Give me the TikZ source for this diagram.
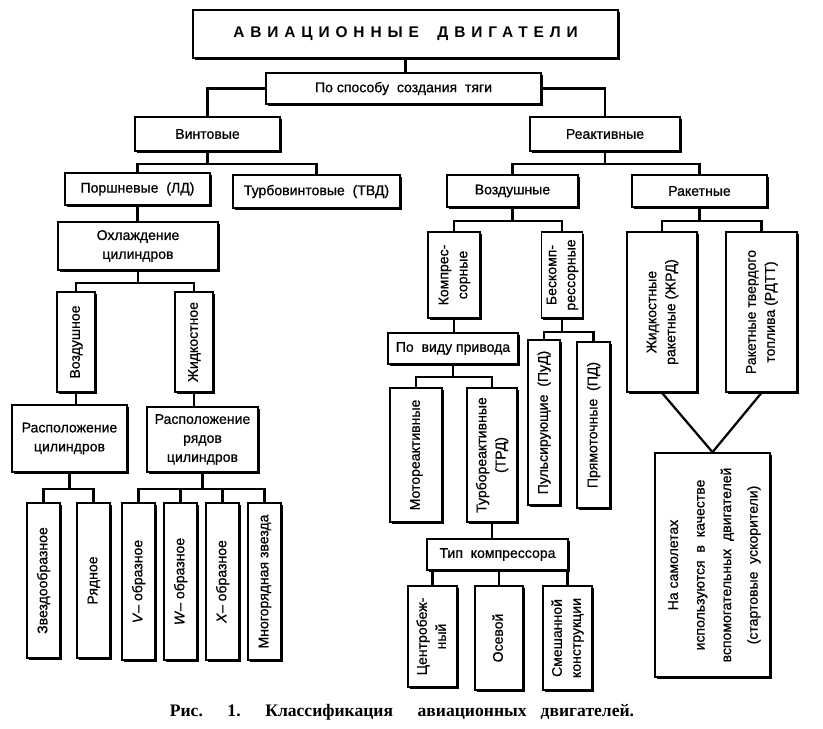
\documentclass[tikz,border=0pt]{standalone}
\usepackage{fontspec}
\setmainfont[FakeBold=0.7]{Liberation Sans}
\newfontfamily\capfont{Liberation Serif}
\newfontfamily\headfont[LetterSpace=38]{Liberation Sans}
\usepackage{graphicx}
\usetikzlibrary{shadows}
\newcommand{\vtxt}[1]{\rotatebox{90}{\begin{tabular}{@{}c@{}}#1\end{tabular}}}
\tikzset{
  block/.style   = {rectangle, draw=black, line width=1.2pt, fill=white, align=center,
                    inner sep=1pt, font=\fontsize{10}{13.5}\selectfont,
                    drop shadow={shadow xshift=1.3pt, shadow yshift=-1.3pt, fill=black, opacity=1}},
  headbox/.style = {block, line width=1.4pt, font=\headfont\bfseries\fontsize{11}{13}\selectfont},
  link/.style    = {line width=1.6pt, draw=black},
  caption/.style = {font=\capfont\bfseries\fontsize{12.5}{14}\selectfont, inner sep=0pt},
}

\begin{document}
\begin{tikzpicture}[x=0.25mm, y=-0.25mm]
\useasboundingbox (0,0) rectangle (823,729);

% ---------- Top ----------
\node[headbox, minimum width=106.25mm, minimum height=12mm] (title) at (405.5,34) {АВИАЦИОННЫЕ\hspace{1.2em}ДВИГАТЕЛИ};
\node[block, minimum width=68.75mm, minimum height=7.75mm] (sposob) at (403.5,88.5) {По способу\ \ создания\ \ тяги};
\node[block, minimum width=36.25mm, minimum height=8.5mm] (vint) at (207.5,134) {Винтовые};
\node[block, minimum width=37.5mm, minimum height=8.5mm] (reakt) at (605,134) {Реактивные};

% ---------- Propeller branch ----------
\node[block, minimum width=36.25mm, minimum height=8mm] (porsh) at (137.5,189) {Поршневые\ \ (ЛД)};
\node[block, minimum width=41.75mm, minimum height=8.25mm] (turbov) at (316.5,191.5) {Турбовинтовые\ \ (ТВД)};
\node[block, minimum width=40mm, minimum height=12mm] (ohl) at (138,246) {Охлаждение\\цилиндров};
\node[block, minimum width=9.5mm, minimum height=25mm] (vozd) at (76,342) {\vtxt{Воздушное}};
\node[block, minimum width=9.5mm, minimum height=25mm] (zhidk) at (194,342) {\vtxt{Жидкостное}};
\node[block, minimum width=28.75mm, minimum height=16.75mm] (rasp1) at (69.5,438.5) {Расположение\\цилиндров};
\node[block, minimum width=27.75mm, minimum height=16.25mm] (rasp2) at (202.5,439.5) {Расположение\\рядов\\цилиндров};
\node[block, minimum width=8.25mm, minimum height=38.75mm] (zvezd) at (43.5,580.5) {\vtxt{Звездообразное}};
\node[block, minimum width=8.25mm, minimum height=38.75mm] (ryad) at (93.5,580.5) {\vtxt{Рядное}};
\node[block, minimum width=8.25mm, minimum height=39.25mm] (vobr) at (138.5,581.5) {\vtxt{\textit{V}– образное}};
\node[block, minimum width=8.25mm, minimum height=39.25mm] (wobr) at (180.5,581.5) {\vtxt{\textit{W}– образное}};
\node[block, minimum width=8.25mm, minimum height=39.25mm] (xobr) at (222.5,581.5) {\vtxt{\textit{X}– образное}};
\node[block, minimum width=8.25mm, minimum height=39.25mm] (mnogo) at (264.5,581.5) {\vtxt{Многорядная звезда}};

% ---------- Jet branch ----------
\node[block, minimum width=32.75mm, minimum height=8mm] (vozdush) at (512.5,191) {Воздушные};
\node[block, minimum width=33.75mm, minimum height=8mm] (raket) at (699.5,191) {Ракетные};
\node[block, minimum width=13mm, minimum height=21.5mm] (kompr) at (454,275) {\vtxt{Компрес-\\сорные}};
\node[block, minimum width=10mm, minimum height=21.5mm] (beskompr) at (562,275) {\vtxt{Бескомп-\\рессорные}};
\node[block, minimum width=17.5mm, minimum height=40mm] (zhrd) at (662,312) {\vtxt{Жидкостные\\ракетные (ЖРД)}};
\node[block, minimum width=17.75mm, minimum height=40mm] (rdtt) at (761.5,312) {\vtxt{Ракетные твердого\\топлива (РДТТ)}};
\node[block, minimum width=28.75mm, minimum height=56mm] (samol) at (712.5,565)
  {\renewcommand{\arraystretch}{1.4}\vtxt{На самолетах\\используются\ \ в\ \ качестве\\вспомогательных\ \ двигателей\\(стартовые\ \ ускорители)}};
\node[block, minimum width=32.5mm, minimum height=7.75mm] (privod) at (453,348.5) {По\ \ виду привода};
\node[block, minimum width=13mm, minimum height=33.5mm] (motor) at (416,455) {\vtxt{Мотореактивные}};
\node[block, minimum width=12.5mm, minimum height=33.5mm] (trd) at (492,455) {\vtxt{Турбореактивные\\(ТРД)}};
\node[block, minimum width=8mm, minimum height=41.25mm] (pud) at (544,422.5) {\vtxt{Пульсирующие\ \ (ПуД)}};
\node[block, minimum width=8.25mm, minimum height=41.5mm] (pd) at (593.5,425) {\vtxt{Прямоточные\ \ (ПД)}};
\node[block, minimum width=35.25mm, minimum height=7.75mm] (tipk) at (497.5,554.5) {Тип\ \ компрессора};
\node[block, minimum width=12.25mm, minimum height=25.25mm] (centr) at (432.5,636.5) {\vtxt{Центробеж-\\ный}};
\node[block, minimum width=12mm, minimum height=26mm] (osev) at (499,638) {\vtxt{Осевой}};
\node[block, minimum width=12.25mm, minimum height=26mm] (smesh) at (567.5,638) {\vtxt{Смешанной\\конструкции}};

% ---------- Caption ----------
\node[caption] (cap) at (402,712) {Рис.\hspace{1.4em}1.\hspace{1.4em}Классификация\hspace{1.4em}авиационных\hspace{0.8em}двигателей.};

% ---------- Edges: top ----------
\draw[link] (title.south) -- (title.south |- sposob.north);
\draw[link] (sposob.west) -| (vint.north);
\draw[link] (sposob.east) -| (reakt.north);

% ---------- Edges: propeller ----------
\draw[link] (vint.south) -- ++(0,12) coordinate (b1);
\draw[link] (b1) -| (porsh.north);
\draw[link] (b1) -| (turbov.north);
\draw[link] (porsh.south) -- (porsh.south |- ohl.north);
\draw[link] (ohl.south) -- ++(0,12) coordinate (b2);
\draw[link] (b2) -| (vozd.north);
\draw[link] (b2) -| (zhidk.north);
\draw[link] (vozd.south) -- (vozd.south |- rasp1.north);
\draw[link] (zhidk.south) -- (zhidk.south |- rasp2.north);
\draw[link] (rasp1.south) -- ++(0,16) coordinate (b3);
\draw[link] (b3) -| (zvezd.north);
\draw[link] (b3) -| (ryad.north);
\draw[link] (rasp2.south) -- ++(0,16) coordinate (b4);
\draw[link] (b4) -| (vobr.north);
\draw[link] (b4) -| (wobr.north);
\draw[link] (b4) -| (xobr.north);
\draw[link] (b4) -| (mnogo.north);

% ---------- Edges: jet ----------
\draw[link] (reakt.south) -- ++(0,12) coordinate (b5);
\draw[link] (b5) -| (vozdush.north);
\draw[link] (b5) -| (raket.north);
\draw[link] (vozdush.south) -- ++(0,13) coordinate (b6);
\draw[link] (b6) -| (kompr.north);
\draw[link] (b6) -| (beskompr.north);
\draw[link] (raket.south) -- ++(0,13) coordinate (b7);
\draw[link] (b7) -| (zhrd.north);
\draw[link] (b7) -| (rdtt.north);
\draw[link] (zhrd.south) -- (samol.north);
\draw[link] (rdtt.south) -- (samol.north);
\draw[link] (kompr.south) -- (kompr.south |- privod.north);
\draw[link] (privod.south) -- ++(0,12) coordinate (b8);
\draw[link] (b8) -| (motor.north);
\draw[link] (b8) -| (trd.north);
\draw[link] (beskompr.south) -- ++(0,13) coordinate (b9);
\draw[link] (b9) -| (pud.north);
\draw[link] (b9) -| (pd.north);
\draw[link] (trd.south) -- (trd.south |- tipk.north);
\draw[link] (tipk.south -| centr.north) -- (centr.north);
\draw[link] (tipk.south -| osev.north) -- (osev.north);
\draw[link] (tipk.south -| smesh.north) -- (smesh.north);

\end{tikzpicture}
\end{document}
